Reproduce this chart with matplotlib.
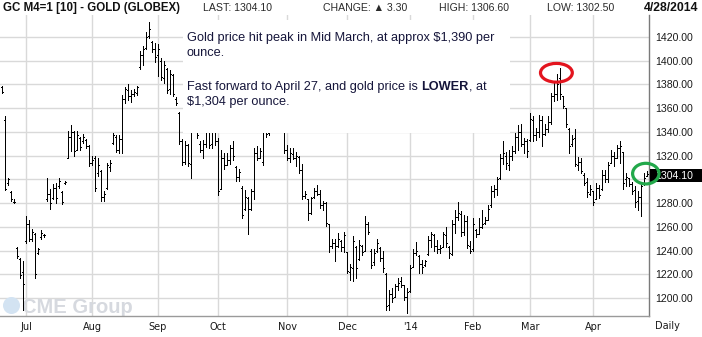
import numpy as np
import pandas as pd
import matplotlib
matplotlib.use("Agg")
import matplotlib.pyplot as plt
from matplotlib.patches import Rectangle, Ellipse
from matplotlib.ticker import FormatStrFormatter
import matplotlib.transforms as mtransforms

plt.rcParams['font.family'] = ['Liberation Sans', 'DejaVu Sans']

# ---------------- data (daily OHLC, GC June-2014 contract) ----------------
title = "GC M4=1 [10] - GOLD (GLOBEX)"
last_date = "4/28/2014"
change = 3.30
holidays = ['2013-07-04', '2013-09-02', '2013-11-28', '2013-12-25',
            '2014-01-01', '2014-01-20', '2014-02-17', '2014-04-18']
start_date, end_date = '2013-06-19', '2014-04-28'

high = [
    1379, 1353, 1301, 1290, 1283, 1243, 1234, 1231,
    1269, 1266, 1258, 1255, 1242, 1257, 1254, 1301, 1292, 1296, 1297, 1301, 1290, 1299, 1341, 1346, 1341, 1341, 1336, 1338, 1334, 1329,
    1320, 1320, 1318, 1308, 1290, 1314, 1316, 1339, 1337, 1337, 1371, 1378, 1380, 1375, 1376, 1379, 1408, 1412, 1424, 1433, 1417, 1415,
    1414, 1402, 1400, 1394, 1392, 1389, 1369, 1357, 1334, 1332, 1330, 1372, 1378, 1366, 1332, 1333, 1345, 1342, 1345, 1343,
    1335, 1325, 1322, 1322, 1329, 1332, 1311, 1309, 1294, 1291, 1285, 1292, 1326, 1328, 1326, 1345, 1350, 1352, 1360, 1362, 1358, 1356, 1352,
    1329, 1326, 1326, 1323, 1320, 1313, 1290, 1283, 1285, 1293, 1295, 1291, 1282, 1281, 1262, 1250, 1250, 1255, 1249, 1256,
    1239, 1229, 1252, 1244, 1249, 1245, 1269, 1264, 1241, 1241, 1250, 1243, 1240, 1221, 1207, 1208, 1212, 1217, 1218, 1211, 1208,
    1228, 1241, 1247, 1236, 1232, 1232, 1252, 1256, 1254, 1249, 1245, 1256, 1260, 1244, 1266, 1274, 1281, 1273, 1270, 1269, 1248,
    1267, 1258, 1267, 1274, 1268, 1278, 1294, 1295, 1302, 1321, 1332, 1323, 1325, 1328, 1339, 1346, 1347, 1335, 1334,
    1356, 1353, 1343, 1354, 1353, 1347, 1353, 1373, 1381, 1389, 1394, 1370, 1360, 1343, 1337, 1342, 1319, 1318, 1305, 1301, 1295,
    1290, 1297, 1295, 1308, 1308, 1315, 1325, 1323, 1329, 1332, 1323, 1305, 1301, 1298, 1294, 1290, 1297, 1305, 1306.6,
]
low = [
    1373, 1291, 1295, 1282, 1280, 1234, 1217, 1190,
    1246, 1248, 1248, 1217, 1237, 1250, 1251, 1282, 1275, 1283, 1280, 1293, 1279, 1296, 1318, 1324, 1320, 1325, 1325, 1331, 1326, 1311,
    1312, 1290, 1303, 1282, 1282, 1292, 1307, 1330, 1323, 1322, 1322, 1364, 1367, 1365, 1370, 1371, 1393, 1396, 1410, 1419, 1407, 1399,
    1387, 1384, 1381, 1373, 1372, 1370, 1363, 1330, 1312, 1313, 1311, 1301, 1360, 1335, 1323, 1318, 1327, 1326, 1326, 1329,
    1287, 1292, 1309, 1312, 1313, 1316, 1299, 1299, 1267, 1274, 1254, 1274, 1283, 1316, 1318, 1312, 1336, 1337, 1345, 1348, 1344, 1340, 1322,
    1316, 1315, 1317, 1311, 1305, 1283, 1284, 1266, 1271, 1284, 1287, 1276, 1274, 1261, 1239, 1242, 1231, 1243, 1240, 1239,
    1221, 1215, 1214, 1217, 1232, 1236, 1240, 1254, 1225, 1228, 1239, 1231, 1222, 1190, 1190, 1197, 1201, 1207, 1209, 1198, 1187,
    1205, 1226, 1236, 1221, 1221, 1227, 1236, 1243, 1240, 1238, 1238, 1243, 1243, 1234, 1236, 1255, 1266, 1252, 1253, 1242, 1238,
    1240, 1251, 1254, 1259, 1262, 1266, 1277, 1285, 1287, 1300, 1313, 1309, 1308, 1316, 1322, 1325, 1328, 1322, 1319,
    1332, 1332, 1333, 1336, 1328, 1337, 1340, 1347, 1366, 1367, 1368, 1360, 1344, 1322, 1328, 1311, 1308, 1305, 1295, 1285, 1287,
    1278, 1283, 1284, 1291, 1298, 1298, 1314, 1311, 1318, 1314, 1292, 1294, 1294, 1288, 1277, 1274, 1269, 1295, 1302.5,
]
open_ = [
    1378, 1350, 1297, 1289, 1281, 1242, 1233, 1222,
    1248, 1262, 1250, 1254, 1238, 1251, 1253, 1283, 1288, 1284, 1293, 1294, 1289, 1297, 1318, 1336, 1340, 1325, 1335, 1332, 1333, 1328,
    1314, 1318, 1305, 1307, 1285, 1293, 1310, 1331, 1336, 1325, 1334, 1368, 1375, 1370, 1372, 1373, 1395, 1405, 1411, 1421, 1416, 1410,
    1405, 1400, 1385, 1393, 1376, 1388, 1368, 1356, 1332, 1315, 1329, 1313, 1368, 1365, 1330, 1325, 1330, 1340, 1330, 1340,
    1332, 1292, 1318, 1312, 1316, 1326, 1310, 1302, 1293, 1275, 1284, 1275, 1290, 1322, 1318, 1315, 1341, 1339, 1350, 1355, 1354, 1350, 1350,
    1325, 1318, 1321, 1318, 1319, 1308, 1286, 1283, 1272, 1285, 1290, 1288, 1278, 1280, 1262, 1244, 1246, 1244, 1248, 1243,
    1239, 1222, 1225, 1243, 1233, 1244, 1240, 1262, 1240, 1230, 1240, 1242, 1234, 1220, 1194, 1203, 1201, 1210, 1214, 1211, 1201,
    1206, 1226, 1238, 1235, 1229, 1228, 1237, 1249, 1253, 1244, 1241, 1243, 1253, 1243, 1237, 1262, 1268, 1271, 1256, 1265, 1244,
    1241, 1257, 1254, 1260, 1263, 1266, 1278, 1290, 1292, 1301, 1318, 1320, 1312, 1320, 1324, 1336, 1340, 1330, 1332,
    1333, 1350, 1337, 1340, 1350, 1338, 1342, 1348, 1370, 1372, 1385, 1370, 1360, 1342, 1330, 1335, 1312, 1315, 1304, 1298, 1288,
    1290, 1283, 1293, 1292, 1304, 1300, 1314, 1320, 1318, 1326, 1323, 1300, 1301, 1296, 1291, 1282, 1285, 1296, 1303.0,
]
close = [
    1374, 1292, 1300, 1283, 1281, 1235, 1219, 1212,
    1262, 1250, 1256, 1220, 1241, 1255, 1253, 1288, 1280, 1293, 1284, 1299, 1281, 1298, 1336, 1340, 1324, 1337, 1327, 1336, 1328, 1314,
    1316, 1293, 1312, 1285, 1288, 1312, 1314, 1337, 1325, 1334, 1368, 1376, 1370, 1372, 1374, 1378, 1405, 1410, 1420, 1427, 1410, 1403,
    1410, 1386, 1396, 1375, 1389, 1372, 1364, 1332, 1315, 1329, 1314, 1368, 1365, 1337, 1325, 1330, 1340, 1329, 1340, 1332,
    1290, 1318, 1312, 1316, 1326, 1320, 1302, 1306, 1270, 1285, 1275, 1290, 1322, 1318, 1324, 1341, 1338, 1350, 1355, 1354, 1350, 1352, 1325,
    1318, 1322, 1318, 1320, 1308, 1286, 1288, 1272, 1284, 1290, 1288, 1278, 1280, 1263, 1244, 1246, 1244, 1250, 1243, 1253,
    1223, 1226, 1248, 1225, 1245, 1239, 1262, 1256, 1228, 1238, 1246, 1234, 1225, 1193, 1203, 1200, 1210, 1213, 1211, 1201, 1205,
    1225, 1238, 1240, 1229, 1226, 1231, 1249, 1254, 1244, 1241, 1242, 1254, 1246, 1238, 1262, 1268, 1272, 1256, 1265, 1245, 1240,
    1262, 1254, 1260, 1262, 1266, 1275, 1290, 1292, 1300, 1318, 1322, 1314, 1320, 1324, 1336, 1340, 1330, 1332, 1324,
    1351, 1337, 1340, 1350, 1338, 1342, 1348, 1370, 1372, 1380, 1372, 1362, 1347, 1328, 1334, 1313, 1315, 1307, 1297, 1289, 1292,
    1281, 1293, 1287, 1304, 1300, 1312, 1320, 1318, 1326, 1328, 1297, 1302, 1296, 1290, 1281, 1285, 1294, 1301, 1304.1,
]
y_ticks = [1200, 1220, 1240, 1260, 1280, 1300, 1320, 1340, 1360, 1380, 1400, 1420]
note_line1 = "Gold price hit peak in Mid March, at approx $1,390 per"
note_line2 = "ounce."
note_line3a = "Fast forward to April 27, and gold price is "
note_line3b = "LOWER"
note_line3c = ", at"
note_line4 = "$1,304 per ounce."

# ---------------- figure ----------------
dates = pd.bdate_range(start_date, end_date, freq='C', holidays=holidays)
n = len(dates)
high, low, open_, close = (np.asarray(a, float) for a in (high, low, open_, close))
idx = np.arange(n)

W, H = 702, 337
fig = plt.figure(figsize=(W / 100, H / 100), dpi=100)
fig.patch.set_facecolor('white')


def fx(px):
    return px / W


def fy(py):
    return 1 - py / H


AX_R, AX_T, AX_B = 649.3, 15, 316
ax = fig.add_axes([0, fy(AX_B), fx(AX_R), fy(AX_T) - fy(AX_B)])
ax.set_xlim(-2 / 3, (AX_R - 2) / 3)
ax.set_ylim(1184.8, 1438.5)

month_starts = [i for i in range(1, n) if dates[i].month != dates[i - 1].month]
month_labels = ["'14" if dates[i].month == 1 else dates[i].strftime('%b') for i in month_starts]
ax.set_xticks(month_starts)
ax.set_xticklabels(month_labels)
ax.set_yticks(y_ticks)
ax.yaxis.set_major_formatter(FormatStrFormatter('%.2f'))
ax.yaxis.tick_right()
ax.grid(True, color='#d9d9d9', linewidth=1.0)
ax.set_axisbelow(True)
ax.tick_params(axis='y', length=0, pad=4.5, labelsize=7.6, labelcolor='#1a1a1a')
ax.tick_params(axis='x', length=0, pad=4, labelsize=7, labelcolor='#1a1a1a')
for lbl in ax.get_xticklabels():
    lbl.set_fontfamily('DejaVu Sans')
for s in ('top', 'left'):
    ax.spines[s].set_visible(False)
ax.spines['right'].set_color('#7a7a7a')
ax.spines['right'].set_linewidth(1.0)
ax.spines['bottom'].set_color('#9a9a9a')
ax.spines['bottom'].set_linewidth(1.0)

# OHLC bars (thin, crisp lines)
bar_kw = dict(colors='black', linewidth=0.7, antialiased=False, zorder=3)
ax.vlines(idx, low, high, **bar_kw)
ax.hlines(open_, idx - 0.45, idx, **bar_kw)
ax.hlines(close, idx, idx + 0.45, **bar_kw)

# CME watermark (under the bars)
ax.add_patch(Ellipse((fx(11.5), fy(305.5)), fx(17), 17 / H, transform=fig.transFigure,
                     facecolor='#d3e3f2', edgecolor='none', zorder=1))
ax.text(fx(22), fy(313), "CME Group", transform=fig.transFigure, fontsize=14.5,
        fontweight='bold', color='#d6d9df', ha='left', va='baseline', zorder=1)

# last price box on the right axis (covers the 1300.00 label)
blend = mtransforms.blended_transform_factory(ax.transAxes, ax.transData)
ax.add_patch(Rectangle((1.0015, close[-1] - 6.4), (W - AX_R) / AX_R, 11.0, transform=blend,
                       facecolor='black', edgecolor='none', clip_on=False, zorder=5))
ax.text(655 / AX_R, close[-1] - 0.9, f"{close[-1]:.2f}", transform=blend, color='white',
        fontsize=7.6, ha='left', va='center', clip_on=False, zorder=6)
fig.canvas.draw()
for lbl, val in zip(ax.get_yticklabels(), y_ticks):
    if abs(val - close[-1]) < 8:
        lbl.set_visible(False)

# highlight ellipses
recent = slice(n - 45, n)
pk = (n - 45) + int(np.argmax(high[recent]))
ax.add_patch(Ellipse((pk - 1.2, high[pk] - 4.2), 10.6, 15.8, facecolor='none',
                     edgecolor='#e3141e', linewidth=2.3, clip_on=False, zorder=7))
ax.add_patch(Ellipse((n - 1.4, close[-1] + 0.7), 8.8, 17.4, facecolor='none',
                     edgecolor='#22a84a', linewidth=2.3, clip_on=False, zorder=7))

# header
hdr_y = fy(8)
fig.text(fx(3), hdr_y, title, fontsize=8.3, fontweight='bold', va='center', ha='left', color='#111111')
small = dict(fontsize=7.6, va='center', ha='left', color='#2a2a2a')
fig.text(fx(203), hdr_y, f"LAST: {close[-1]:.2f}", **small)
fig.text(fx(323), hdr_y, f"CHANGE: \u25b2 {change:.2f}", **small)
fig.text(fx(439), hdr_y, f"HIGH: {high[-1]:.2f}", **small)
fig.text(fx(547), hdr_y, f"LOW: {low[-1]:.2f}", **small)
fig.text(fx(698), hdr_y, last_date, fontsize=8.8, fontweight='bold', va='center', ha='right', color='#111111')
fig.text(fx(667), fy(326), "Daily", fontsize=7, family='DejaVu Sans', va='center', ha='center', color='#1a1a1a')

# annotation box (white, covers the chart)
fig.add_artist(Rectangle((fx(183), fy(133)), fx(510) - fx(183), fy(20) - fy(133),
                         transform=fig.transFigure, facecolor='white', edgecolor='none', zorder=2))
note_kw = dict(fontsize=9.2, va='baseline', ha='left', color='#15153a', zorder=3)
fig.text(fx(187), fy(41.5), note_line1, **note_kw)
fig.text(fx(187), fy(56.5), note_line2, **note_kw)
t3a = fig.text(fx(187), fy(90), note_line3a, **note_kw)
fig.text(fx(187), fy(105), note_line4, **note_kw)
renderer = fig.canvas.get_renderer()
bb = t3a.get_window_extent(renderer)
t3b = fig.text(bb.x1 / fig.bbox.width, fy(90), note_line3b, fontweight='bold', **note_kw)
bb2 = t3b.get_window_extent(renderer)
fig.text(bb2.x1 / fig.bbox.width, fy(90), note_line3c, **note_kw)

fig.savefig('out.png', dpi=100, facecolor='white')
